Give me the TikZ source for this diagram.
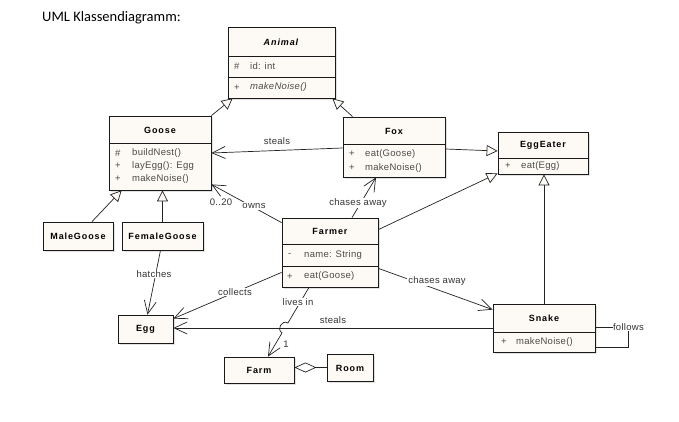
\documentclass[tikz,border=0pt]{standalone}
\usepackage{fontspec}
\setmainfont{Liberation Sans}
\newfontfamily\titlefont{Carlito}
\usetikzlibrary{arrows.meta,shadows,calc}
\definecolor{cream}{RGB}{253,249,244}
\definecolor{memgray}{RGB}{75,75,75}
\definecolor{linegray}{RGB}{35,35,35}
\newcommand\umlhead{\fontsize{9}{11}\selectfont\bfseries\addfontfeature{LetterSpace=10}}
\newcommand\umlmem{\fontsize{9.5}{11}\selectfont\addfontfeature{LetterSpace=3}}
\newcommand\umllbl{\fontsize{9.5}{11}\selectfont\addfontfeature{LetterSpace=3}}
\begin{document}
\begin{tikzpicture}[x=1pt,y=-1pt,
  cls/.style={draw=black!90, fill=cream, line width=0.8pt, inner sep=0pt,
    drop shadow={shadow xshift=2pt, shadow yshift=-2pt, fill=black!22, draw=none}},
  sep/.style={draw=black!90, line width=0.8pt},
  head/.style={font=\umlhead, text=black, inner sep=0pt},
  mem/.style={font=\umlmem, text=memgray, anchor=west, inner sep=0pt},
  lbl/.style={font=\umllbl, text=black!80, inner sep=1pt, fill=white},
  conn/.style={draw=linegray, line width=0.7pt},
  gen/.style={conn, -{Triangle[length=11pt,width=11pt,fill=cream]}},
  assoc/.style={conn, -{Straight Barb[length=13pt,width=12pt]}},
  aggr/.style={conn, {Diamond[length=22pt,width=10pt,fill=white]}-}
]
\fill[white] (0,0) rectangle (679,422);
\useasboundingbox (0,0) rectangle (679,422);

\node[anchor=base west, font=\titlefont\fontsize{14.5}{17}\selectfont, inner sep=0pt] (title) at (42,22) {UML Klassendiagramm:};

% ---------- classes ----------
\node[cls, minimum width=107pt, minimum height=71pt] (animal) at (281.5,62.5) {};
\draw[sep] (228,56) -- (335,56);
\draw[sep] (228,77) -- (335,77);
\node[head] (animalH) at (281.5,42) {\textit{Animal}};
\node[mem] (animalS1) at (234,66) {\#};
\node[mem] (animalM1) at (250,66) {id: int};
\node[mem] (animalS2) at (234,87.5) {+};
\node[mem] (animalM2) at (250,87.5) {\textit{makeNoise()}};

\node[cls, minimum width=102pt, minimum height=74pt] (goose) at (160,153) {};
\draw[sep] (109,143) -- (211,143);
\node[head] (gooseH) at (160,130) {Goose};
\node[mem] (gooseS1) at (115,153) {\#};
\node[mem] (gooseM1) at (132,153) {buildNest()};
\node[mem] (gooseS2) at (115,166) {+};
\node[mem] (gooseM2) at (132,166) {layEgg(): Egg};
\node[mem] (gooseS3) at (115,179) {+};
\node[mem] (gooseM3) at (132,179) {makeNoise()};

\node[cls, minimum width=102pt, minimum height=60pt] (fox) at (394,147) {};
\draw[sep] (343,144) -- (445,144);
\node[head] (foxH) at (394,131) {Fox};
\node[mem] (foxS1) at (349,154) {+};
\node[mem] (foxM1) at (365,154) {eat(Goose)};
\node[mem] (foxS2) at (349,168) {+};
\node[mem] (foxM2) at (365,168) {makeNoise()};

\node[cls, minimum width=90pt, minimum height=42pt] (eggeater) at (543,153) {};
\draw[sep] (498,158) -- (588,158);
\node[head] (eggeaterH) at (543,145) {EggEater};
\node[mem] (eggeaterS1) at (505,166) {+};
\node[mem] (eggeaterM1) at (521,166) {eat(Egg)};

\node[cls, minimum width=96pt, minimum height=69pt] (farmer) at (330,252.5) {};
\draw[sep] (282,244) -- (378,244);
\node[head] (farmerH) at (330,231) {Farmer};
\draw[sep] (282,266) -- (378,266);
\node[mem] (farmerS1) at (288,255) {-};
\node[mem] (farmerM1) at (304,255) {name: String};
\node[mem] (farmerS2) at (287,276.5) {+};
\node[mem] (farmerM2) at (304,276.5) {eat(Goose)};

\node[cls, minimum width=102pt, minimum height=48pt] (snake) at (544,328) {};
\draw[sep] (493,332) -- (595,332);
\node[head] (snakeH) at (544,318) {Snake};
\node[mem] (snakeS1) at (501,342) {+};
\node[mem] (snakeM1) at (516,342) {makeNoise()};

\node[cls, minimum width=70pt, minimum height=28pt] (malegoose) at (78,236) {};
\node[head] (malegooseH) at (78,236) {MaleGoose};
\node[cls, minimum width=81pt, minimum height=28pt] (femalegoose) at (162.5,236) {};
\node[head] (femalegooseH) at (162.5,236) {FemaleGoose};
\node[cls, minimum width=55pt, minimum height=28pt] (egg) at (145.5,329) {};
\node[head] (eggH) at (145.5,329.5) {Egg};
\node[cls, minimum width=70pt, minimum height=26pt] (farm) at (259,370) {};
\node[head] (farmH) at (259,370.5) {Farm};
\node[cls, minimum width=46pt, minimum height=27pt] (room) at (350,367.5) {};
\node[head] (roomH) at (350,368) {Room};

% ---------- connectors ----------
\draw[gen] (goose.north east) -- ($(animal.south west)+(5,0)$);
\draw[gen] ($(fox.north west)+(10,0)$) -- ($(animal.south east)+(-3,0)$);
\draw[assoc] ($(fox.west)+(0,1)$) -- (goose.east);
\draw[gen] ($(fox.east)+(0,2)$) -- ($(eggeater.west)+(0,-2)$);
\draw[gen] ($(farmer.north east)+(0,12)$) -- ($(eggeater.south west)+(0,-1)$);
\draw[assoc] ($(farmer.north)+(22,0)$) -- ($(fox.south)+(-18,0)$);
\draw[assoc] ($(farmer.north west)+(0,5)$) -- ($(goose.south east)+(0,-6)$);
\draw[assoc] ($(farmer.south west)+(0,-15)$) -- ($(egg.north east)+(0,4)$);
\draw[assoc] ($(femalegoose.south)+(-2,0)$) -- ($(egg.north)+(2,0)$);
\draw[gen] ($(malegoose.north)+(14,0)$) -- ($(goose.south west)+(13,0)$);
\draw[gen] (femalegoose.north) -- ($(goose.south)+(2.5,0)$);
\draw[gen] (snake.north) -- (snake.north |- eggeater.south);
\draw[assoc] ($(farmer.south east)+(0,-19)$) -- ($(snake.north west)+(0,6)$);
\draw[assoc] (snake.west) -- (snake.west -| egg.east);

% lives in, with a line jump over the "steals" line
\coordinate (liA) at ($(farmer.south)+(-21,0)$);
\coordinate (liB) at ($(farm.north)+(9,0)$);
\coordinate (hop1) at ($(liA)!0.514!(liB)$);
\coordinate (hop2) at ($(liA)!0.657!(liB)$);
\draw[assoc] (liA) -- (hop1) .. controls ($(hop1)+(-6,-3.5)$) and ($(hop2)+(-6,-3.5)$) .. (hop2) -- (liB);

\draw[aggr] (farm.east |- room.west) -- (room.west);

\draw[conn] ($(snake.east)+(0,-1)$) -- ++(33,0) coordinate (fl) -- ++(0,20) -- ($(snake.east)+(0,19)$);

% ---------- labels ----------
\node[lbl] (lSteals1) at (277,141) {steals};
\node[lbl, fill=none] (lMult20) at (221,202) {0..20};
\node[lbl] (lOwns) at (254,206) {owns};
\node[lbl] (lChase1) at (358,203) {chases away};
\node[lbl] (lHatches) at (154,274) {hatches};
\node[lbl] (lCollects) at (235,292) {collects};
\node[lbl] (lLives) at (298,302) {lives in};
\node[lbl, fill=none] (lSteals2) at (333,320) {steals};
\node[lbl, fill=none] (lOne) at (286,344) {1};
\node[lbl] (lChase2) at (437,281) {chases away};
\node[lbl, inner sep=0.5pt] (lFollows) at (fl) {follows};
\end{tikzpicture}
\end{document}
